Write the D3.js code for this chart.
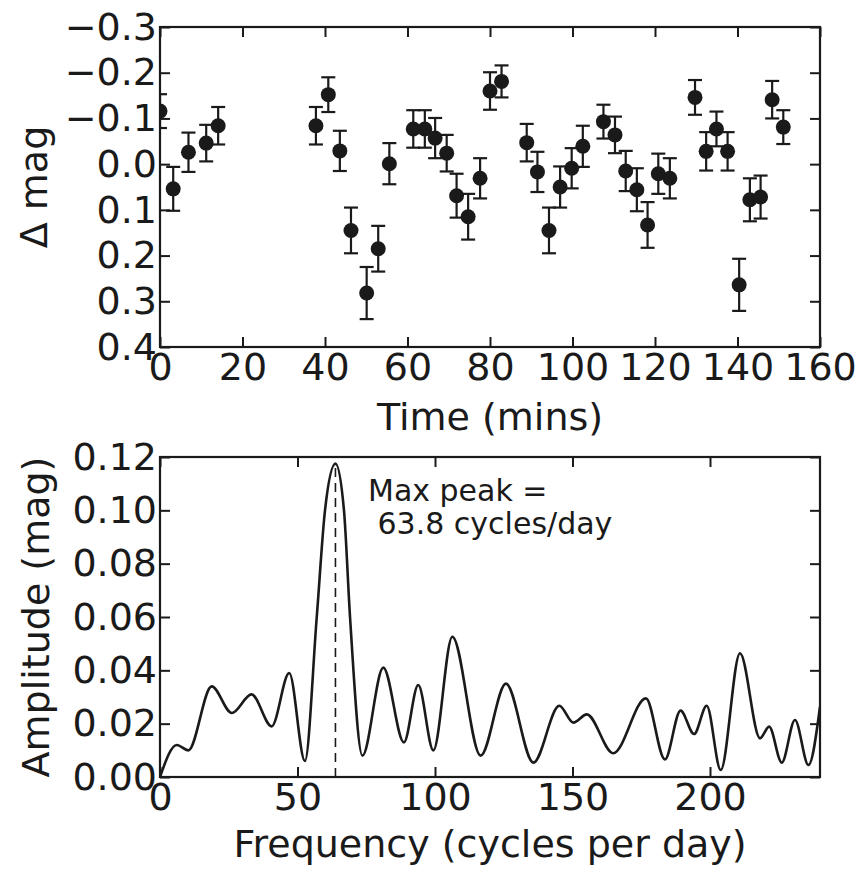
<!DOCTYPE html>
<html>
<head>
<meta charset="utf-8">
<script src="https://cdn.jsdelivr.net/npm/d3@7"></script>
<style>
  body { margin: 0; background: #fff; }
  text { font-family: "DejaVu Sans", sans-serif; fill: #1a1a1a; }
</style>
</head>
<body>
<div id="chart"></div>
<script>
// light curve: time (mins), delta mag, error
var timeMins = [0, 3.2, 6.9, 11.2, 14.1, 37.8, 40.8, 43.6, 46.3, 50.1, 52.9, 55.6,
  61.4, 64.2, 66.7, 69.5, 71.9, 74.7, 77.6, 80.0, 82.8, 88.9, 91.5, 94.3, 97.0,
  99.8, 102.5, 107.5, 110.3, 112.9, 115.6, 118.2, 120.8, 123.6, 129.7, 132.4,
  134.9, 137.6, 140.4, 143.0, 145.6, 148.4, 151.1];
var deltaMag = [-0.116, 0.054, -0.026, -0.046, -0.084, -0.084, -0.152, -0.029, 0.145,
  0.282, 0.185, -0.001, -0.077, -0.077, -0.057, -0.024, 0.069, 0.115, 0.031, -0.160,
  -0.181, -0.047, 0.017, 0.145, 0.050, 0.009, -0.039, -0.093, -0.064, 0.015, 0.056,
  0.133, 0.021, 0.031, -0.146, -0.028, -0.077, -0.028, 0.264, 0.078, 0.072, -0.141,
  -0.081];
var magErr = [0.037, 0.048, 0.043, 0.040, 0.041, 0.041, 0.038, 0.044, 0.050, 0.057,
  0.050, 0.045, 0.041, 0.041, 0.044, 0.040, 0.048, 0.050, 0.044, 0.041, 0.035, 0.041,
  0.044, 0.050, 0.045, 0.044, 0.045, 0.037, 0.040, 0.044, 0.047, 0.050, 0.044, 0.044,
  0.038, 0.042, 0.038, 0.042, 0.057, 0.047, 0.047, 0.041, 0.037];

// periodogram
var freq = [0, 6.1, 10.3, 18.8, 26.1, 33.3, 40.6, 47.0, 52.7, 57.0, 60.0, 63.8, 66.9,
  69.1, 73.6, 81.2, 88.7, 93.9, 99.4, 106.3, 116.6, 125.8, 135.8, 145.2, 150.3, 155.2,
  164.8, 176.7, 183.6, 189.3, 194.2, 198.8, 203.9, 210.9, 218.2, 221.5, 226.1, 230.9,
  235.8, 240];
var amp = [0.0, 0.012, 0.010, 0.034, 0.024, 0.031, 0.019, 0.039, 0.006, 0.060, 0.100,
  0.1175, 0.100, 0.060, 0.008, 0.041, 0.013, 0.0345, 0.010, 0.0526, 0.008, 0.035,
  0.0054, 0.0267, 0.0204, 0.0235, 0.0089, 0.0295, 0.0066, 0.0249, 0.0161, 0.0267,
  0.0026, 0.0464, 0.0145, 0.0189, 0.0054, 0.0214, 0.0045, 0.0264];

var peakFreq = 63.8;
var peakAmp = 0.1175;

var timeTicks = [0, 20, 40, 60, 80, 100, 120, 140, 160];
var magTicks = [-0.3, -0.2, -0.1, 0.0, 0.1, 0.2, 0.3, 0.4];
var freqTicks = [0, 50, 100, 150, 200];
var ampTicks = [0, 0.02, 0.04, 0.06, 0.08, 0.10, 0.12];

var width = 864, height = 873;
var left = 160, right = 820;
var ink = '#1a1a1a';

var svg = d3.select('#chart').append('svg')
  .attr('width', width)
  .attr('height', height);

svg.append('rect').attr('width', width).attr('height', height).attr('fill', '#fff');

// draws inward ticks on all four sides + labels on left/bottom
function frame(g, x, y, xt, yt, xfmt, yfmt, top, bottom){
  var tl = 10;
  g.append('g')
    .attr('transform', 'translate(0,' + bottom + ')')
    .call(d3.axisBottom(x).tickValues(xt).tickFormat(xfmt).tickSizeInner(-tl).tickSizeOuter(0).tickPadding(6));
  g.append('g')
    .attr('transform', 'translate(0,' + top + ')')
    .call(d3.axisTop(x).tickValues(xt).tickFormat('').tickSizeInner(-tl).tickSizeOuter(0));
  g.append('g')
    .attr('transform', 'translate(' + left + ',0)')
    .call(d3.axisLeft(y).tickValues(yt).tickFormat(yfmt).tickSizeInner(-tl).tickSizeOuter(0).tickPadding(3));
  g.append('g')
    .attr('transform', 'translate(' + right + ',0)')
    .call(d3.axisRight(y).tickValues(yt).tickFormat('').tickSizeInner(-tl).tickSizeOuter(0));
  g.selectAll('.domain').remove();
  g.selectAll('.tick line').attr('stroke', ink).attr('stroke-width', 2);
  g.selectAll('.tick text').attr('font-size', 38).attr('fill', ink)
    .style('font-family', '"DejaVu Sans", sans-serif');
  g.append('rect')
    .attr('x', left).attr('y', top)
    .attr('width', right - left).attr('height', bottom - top)
    .attr('fill', 'none').attr('stroke', ink).attr('stroke-width', 2.2);
}

// ---- top panel: light curve
var top1 = 27, bot1 = 347;
var x1 = d3.scaleLinear().domain([0, 160]).range([left, right]);
var y1 = d3.scaleLinear().domain([-0.3, 0.4]).range([top1, bot1]);

svg.append('clipPath').attr('id', 'clip1')
  .append('rect').attr('x', left).attr('y', top1).attr('width', right - left).attr('height', bot1 - top1);

var pts = timeMins.map(function(t, i){ return {t: t, m: deltaMag[i], e: magErr[i]}; });
var g1 = svg.append('g').attr('clip-path', 'url(#clip1)');
var cap = 7;
var eb = g1.selectAll('.err').data(pts).enter().append('g').attr('class', 'err')
  .attr('stroke', ink).attr('stroke-width', 2.2);
eb.append('line')
  .attr('x1', function(d){ return x1(d.t); }).attr('x2', function(d){ return x1(d.t); })
  .attr('y1', function(d){ return y1(d.m - d.e); }).attr('y2', function(d){ return y1(d.m + d.e); });
eb.append('line')
  .attr('x1', function(d){ return x1(d.t) - cap; }).attr('x2', function(d){ return x1(d.t) + cap; })
  .attr('y1', function(d){ return y1(d.m - d.e); }).attr('y2', function(d){ return y1(d.m - d.e); });
eb.append('line')
  .attr('x1', function(d){ return x1(d.t) - cap; }).attr('x2', function(d){ return x1(d.t) + cap; })
  .attr('y1', function(d){ return y1(d.m + d.e); }).attr('y2', function(d){ return y1(d.m + d.e); });
g1.selectAll('.pt').data(pts).enter().append('circle')
  .attr('cx', function(d){ return x1(d.t); })
  .attr('cy', function(d){ return y1(d.m); })
  .attr('r', 7.5)
  .attr('fill', ink);

var ax1 = svg.append('g');
frame(ax1, x1, y1, timeTicks, magTicks, d3.format('d'), d3.format('.1f'), top1, bot1);

svg.append('text')
  .attr('x', (left + right) / 2).attr('y', 430)
  .attr('text-anchor', 'middle').attr('font-size', 38)
  .text('Time (mins)');
svg.append('text')
  .attr('transform', 'translate(47,' + ((top1 + bot1) / 2) + ') rotate(-90)')
  .attr('text-anchor', 'middle').attr('font-size', 38)
  .text('\u0394 mag');

// ---- bottom panel: amplitude spectrum
var top2 = 457, bot2 = 777;
var x2 = d3.scaleLinear().domain([0, 240]).range([left, right]);
var y2 = d3.scaleLinear().domain([0, 0.12]).range([bot2, top2]);

svg.append('clipPath').attr('id', 'clip2')
  .append('rect').attr('x', left).attr('y', top2).attr('width', right - left).attr('height', bot2 - top2);

var spec = freq.map(function(f, i){ return {f: f, a: amp[i]}; });
var line = d3.line()
  .x(function(d){ return x2(d.f); })
  .y(function(d){ return y2(d.a); })
  .curve(d3.curveMonotoneX);

var g2 = svg.append('g').attr('clip-path', 'url(#clip2)');
g2.append('line')
  .attr('x1', x2(peakFreq)).attr('x2', x2(peakFreq))
  .attr('y1', y2(0)).attr('y2', y2(peakAmp))
  .attr('stroke', ink).attr('stroke-width', 1.6)
  .attr('stroke-dasharray', '9,6');
g2.append('path')
  .datum(spec)
  .attr('d', line)
  .attr('fill', 'none')
  .attr('stroke', ink)
  .attr('stroke-width', 2.6)
  .attr('stroke-linejoin', 'round');

var ax2 = svg.append('g');
frame(ax2, x2, y2, freqTicks, ampTicks, d3.format('d'), d3.format('.2f'), top2, bot2);

var note = svg.append('text').attr('font-size', 30);
note.append('tspan').attr('x', 368).attr('y', 501).text('Max peak =');
note.append('tspan').attr('x', 368).attr('y', 534).attr('xml:space', 'preserve').text('\u00a063.8 cycles/day');

svg.append('text')
  .attr('x', (left + right) / 2).attr('y', 857)
  .attr('text-anchor', 'middle').attr('font-size', 38)
  .text('Frequency (cycles per day)');
svg.append('text')
  .attr('transform', 'translate(49,' + ((top2 + bot2) / 2) + ') rotate(-90)')
  .attr('text-anchor', 'middle').attr('font-size', 38)
  .text('Amplitude (mag)');
</script>
</body>
</html>
